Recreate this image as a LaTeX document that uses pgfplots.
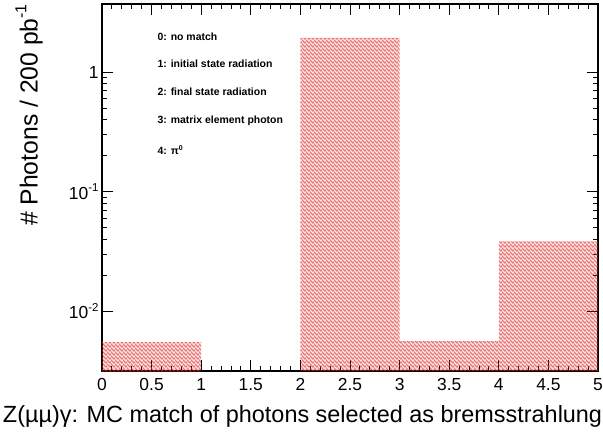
\documentclass[border=0pt]{standalone}
\usepackage{pgfplots}
\pgfplotsset{compat=1.18}
\usepackage{fontspec}
\setmainfont{Liberation Sans}
\usetikzlibrary{patterns}
\definecolor{hatchred}{RGB}{220,40,40}
\pgfdeclarepatterninherentlycolored{stairs}{\pgfqpoint{0pt}{0pt}}{\pgfqpoint{4pt}{4pt}}{\pgfqpoint{4pt}{4pt}}{
  \pgfsetcolor{hatchred}
  \pgfsetlinewidth{0.85pt}
  \pgfsetrectcap
  \pgfpathmoveto{\pgfqpoint{0pt}{3pt}}
  \pgfpathlineto{\pgfqpoint{1pt}{3pt}}
  \pgfpathlineto{\pgfqpoint{1pt}{1pt}}
  \pgfpathlineto{\pgfqpoint{3pt}{1pt}}
  \pgfpathlineto{\pgfqpoint{3pt}{0pt}}
  \pgfpathmoveto{\pgfqpoint{3pt}{4pt}}
  \pgfpathlineto{\pgfqpoint{3pt}{3pt}}
  \pgfpathlineto{\pgfqpoint{4pt}{3pt}}
  \pgfusepath{stroke}
}
\begin{document}
\begin{tikzpicture}
\begin{axis}[
  scale only axis,
  width=496bp, height=367bp,
  xmin=0, xmax=5,
  ymode=log, ymin=0.00315, ymax=3.71,
  log origin=infty,
  xtick={0,0.5,1,1.5,2,2.5,3,3.5,4,4.5,5},
  xticklabels={0,0.5,1,1.5,2,2.5,3,3.5,4,4.5,5},
  minor x tick num=4,
  ytick={0.01,0.1,1},
  yticklabels={10\raisebox{0.42em}{\fontsize{11.5}{12}\selectfont -2},10\raisebox{0.42em}{\fontsize{11.5}{12}\selectfont -1},1},
  tick align=inside,
  xtick pos=both, ytick pos=both,
  major tick length=11bp, minor tick length=5.5bp,
  axis line style={line width=1.2pt},
  every tick/.style={black, line width=0.9pt},
  /pgf/number format/assume math mode=true,
  tick label style={font=\fontsize{17.5}{19}\selectfont},
  xticklabel style={yshift=-4bp},
  xlabel={Z(\textmu\textmu)γ: MC match of photons selected as bremsstrahlung},
  xlabel style={font=\fontsize{23.5}{26}\selectfont, at={(axis description cs:-0.2,-0.093)}, anchor=north west, inner sep=0pt},
  ylabel={\# Photons / 200 pb\raisebox{0.45em}{\fontsize{16}{16}\selectfont -1}},
  ylabel style={font=\fontsize{24.8}{26}\selectfont, at={(axis description cs:-0.147,1)}, anchor=east, inner sep=0pt},
  clip=true,
]
\addplot[ybar interval, draw=none, pattern=stairs]
  coordinates {(0,0.0055) (1,0.0055)};
\addplot[ybar interval, draw=none, pattern=stairs]
  coordinates {(2,1.93) (3,0.0056) (4,0.0383) (5,0.0383)};
\node[anchor=west, font=\fontsize{10.5}{12}\selectfont\bfseries] at (rel axis cs:0.105,0.910) {0: no match};
\node[anchor=west, font=\fontsize{10.5}{12}\selectfont\bfseries] at (rel axis cs:0.105,0.837) {1: initial state radiation};
\node[anchor=west, font=\fontsize{10.5}{12}\selectfont\bfseries] at (rel axis cs:0.105,0.760) {2: final state radiation};
\node[anchor=west, font=\fontsize{10.5}{12}\selectfont\bfseries] at (rel axis cs:0.105,0.681) {3: matrix element photon};
\node[anchor=west, font=\fontsize{10.5}{12}\selectfont\bfseries] at (rel axis cs:0.105,0.602) {4: π\raisebox{0.4em}{\fontsize{7}{7}\selectfont 0}};
\coordinate (O) at (rel axis cs:0,0);
\end{axis}
\pgfresetboundingbox
\path[use as bounding box] ([xshift=-102bp,yshift=-63bp]O) rectangle ([xshift=501bp,yshift=371bp]O);
\end{tikzpicture}
\end{document}
